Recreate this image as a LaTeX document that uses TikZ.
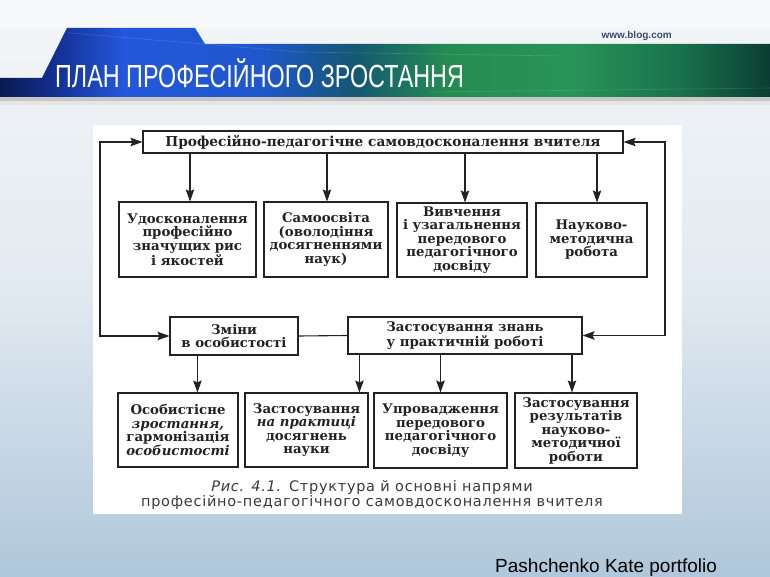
\documentclass[tikz,border=0pt]{standalone}
\usepackage{fontspec}
\usetikzlibrary{arrows.meta,calc}
\newfontfamily\boxfont{DejaVu Serif}
\newfontfamily\capfont[LetterSpace=5]{DejaVu Sans}
\newfontfamily\titlefont[FakeStretch=0.73]{Liberation Sans}
\newfontfamily\arialfont{Liberation Sans}
\definecolor{ink}{HTML}{222222}
\definecolor{bgtop}{HTML}{F4F6F8}
\definecolor{bgmid}{HTML}{E2EAF1}
\definecolor{bgbot}{HTML}{AFC7DB}
\definecolor{urlcol}{HTML}{3A4A6A}
\definecolor{capcol}{HTML}{3A3A3A}
\pgfdeclarehorizontalshading{banner}{100bp}{rgb(0bp)=(0.04,0.10,0.32); rgb(25bp)=(0.04,0.10,0.32); rgb(29bp)=(0.08,0.20,0.60); rgb(33bp)=(0.14,0.34,0.86); rgb(42bp)=(0.12,0.34,0.80); rgb(48bp)=(0.08,0.34,0.45); rgb(54bp)=(0.14,0.55,0.32); rgb(62bp)=(0.16,0.58,0.34); rgb(69bp)=(0.10,0.45,0.30); rgb(75bp)=(0.04,0.24,0.20); rgb(100bp)=(0.04,0.24,0.20)}
\tikzset{
  box/.style={draw=ink, line width=1.1pt, fill=white, text=ink, align=center, inner sep=0pt,
    font=\boxfont\bfseries\fontsize{13.3}{13.5}\selectfont},
  arr/.style={draw=ink, line width=1.1pt, -{Stealth[length=12pt,width=8.5pt,inset=2pt]}},
  ln/.style={draw=ink, line width=1.1pt},
}
\begin{document}
\begin{tikzpicture}[x=1pt,y=-1pt]
\useasboundingbox (0,0) rectangle (770,577);
% slide background
\shade[top color=bgtop, bottom color=bgbot, middle color=bgmid] (0,0) rectangle (770,577);
\fill[white, opacity=0.35] (0,0) rectangle (770,28);
% banner shadow
\fill[gray!45] (0,97) rectangle (770,101);
\fill[gray!20] (0,101) rectangle (770,105);
% banner
\shade[shading=banner] (0,78) -- (42,78) -- (67,28) -- (195,28) -- (205,44) -- (770,44) -- (770,97) -- (0,97) -- cycle;
\shade[top color=black, bottom color=black, opacity=0.0] (0,28) rectangle (1,29);
\draw[white, opacity=0.35, densely dotted, line width=0.6pt] (70,33) -- (300,52) -- (560,56);
\draw[white, opacity=0.3, densely dotted, line width=0.6pt] (430,92) -- (770,88);
\node[anchor=base west, text=white, inner sep=0pt, font=\titlefont\fontsize{32}{32}\selectfont] (title) at (55,88) {ПЛАН ПРОФЕСІЙНОГО ЗРОСТАННЯ};
\node[anchor=base east, text=urlcol, inner sep=0pt, font=\arialfont\bfseries\fontsize{10}{10}\selectfont] (url) at (672,39) {www.blog.com};
% scanned figure area
\fill[white] (93,125) rectangle (682,514);
% boxes
\node[box, minimum width=480pt, minimum height=22pt, font=\boxfont\bfseries\fontsize{13.7}{14}\selectfont] (top) at (383,142) {Професійно-педагогічне самовдосконалення вчителя};
\node[box, minimum width=137pt, minimum height=75pt] (b1) at (187.5,239.5) {Удосконалення\\професійно\\значущих рис\\і якостей};
\node[box, minimum width=124pt, minimum height=75pt] (b2) at (326,239.5) {Самоосвіта\\(оволодіння\\досягненнями\\наук)};
\node[box, minimum width=130pt, minimum height=74pt] (b3) at (462,240) {Вивчення\\і узагальнення\\передового\\педагогічного\\досвіду};
\node[box, minimum width=111pt, minimum height=74pt] (b4) at (591.5,240) {Науково-\\методична\\робота};
\node[box, minimum width=128pt, minimum height=38pt] (zm) at (234,336) {Зміни\\в особистості};
\node[box, minimum width=234pt, minimum height=37pt] (zs) at (465,335.5) {Застосування знань\\у практичній роботі};
\node[box, minimum width=120pt, minimum height=74pt] (c1) at (178,430) {Особистісне\\\textit{зростання,}\\гармонізація\\\textit{особистості}};
\node[box, minimum width=123pt, minimum height=74pt] (c2) at (306.5,430) {Застосування\\\textit{на практиці}\\досягнень\\науки};
\node[box, minimum width=133pt, minimum height=75pt] (c3) at (440.5,430.5) {Упровадження\\передового\\педагогічного\\досвіду};
\node[box, minimum width=122pt, minimum height=75pt] (c4) at (576,430.5) {Застосування\\результатів\\науково-\\методичної\\роботи};
% caption
\node[text=capcol, align=center, inner sep=0pt, font=\capfont\fontsize{14.5}{15.5}\selectfont] (cap) at (372,495) {\textit{Рис. 4.1.} Структура й основні напрями\\професійно-педагогічного самовдосконалення вчителя};
% connectors
\coordinate (lft) at (100,240);
\coordinate (rgt) at (665,240);
\draw[arr] ([xshift=2.5pt]top.south -| b1.north) -- ([xshift=2.5pt]b1.north);
\draw[arr] ([xshift=1pt]top.south -| b2.north) -- ([xshift=1pt]b2.north);
\draw[arr] ([xshift=3pt]top.south -| b3.north) -- ([xshift=3pt]b3.north);
\draw[arr] ([xshift=5.5pt]top.south -| b4.north) -- ([xshift=5.5pt]b4.north);
\draw[arr] (lft) |- (top.west);
\draw[arr] (lft) |- (zm.west);
\draw[arr] (rgt) |- (top.east);
\draw[arr] (rgt) |- (zs.east);
\draw[ln] (zm.east) -- (zs.west);
\draw[arr] ([xshift=28pt]zm.south west) -- ([xshift=28pt]zm.south west |- c1.north);
\draw[arr] ([xshift=12pt]zs.south west) -- ([xshift=12pt]zs.south west |- c2.north);
\draw[arr] (zs.south -| c3.north) -- (c3.north);
\draw[arr] ([xshift=-4pt]zs.south -| c4.north) -- ([xshift=-4pt]c4.north);
% footer
\node[anchor=base west, text=black, inner sep=0pt, font=\arialfont\fontsize{19}{19}\selectfont] (foot) at (495,572) {Pashchenko Kate portfolio};
\end{tikzpicture}
\end{document}
